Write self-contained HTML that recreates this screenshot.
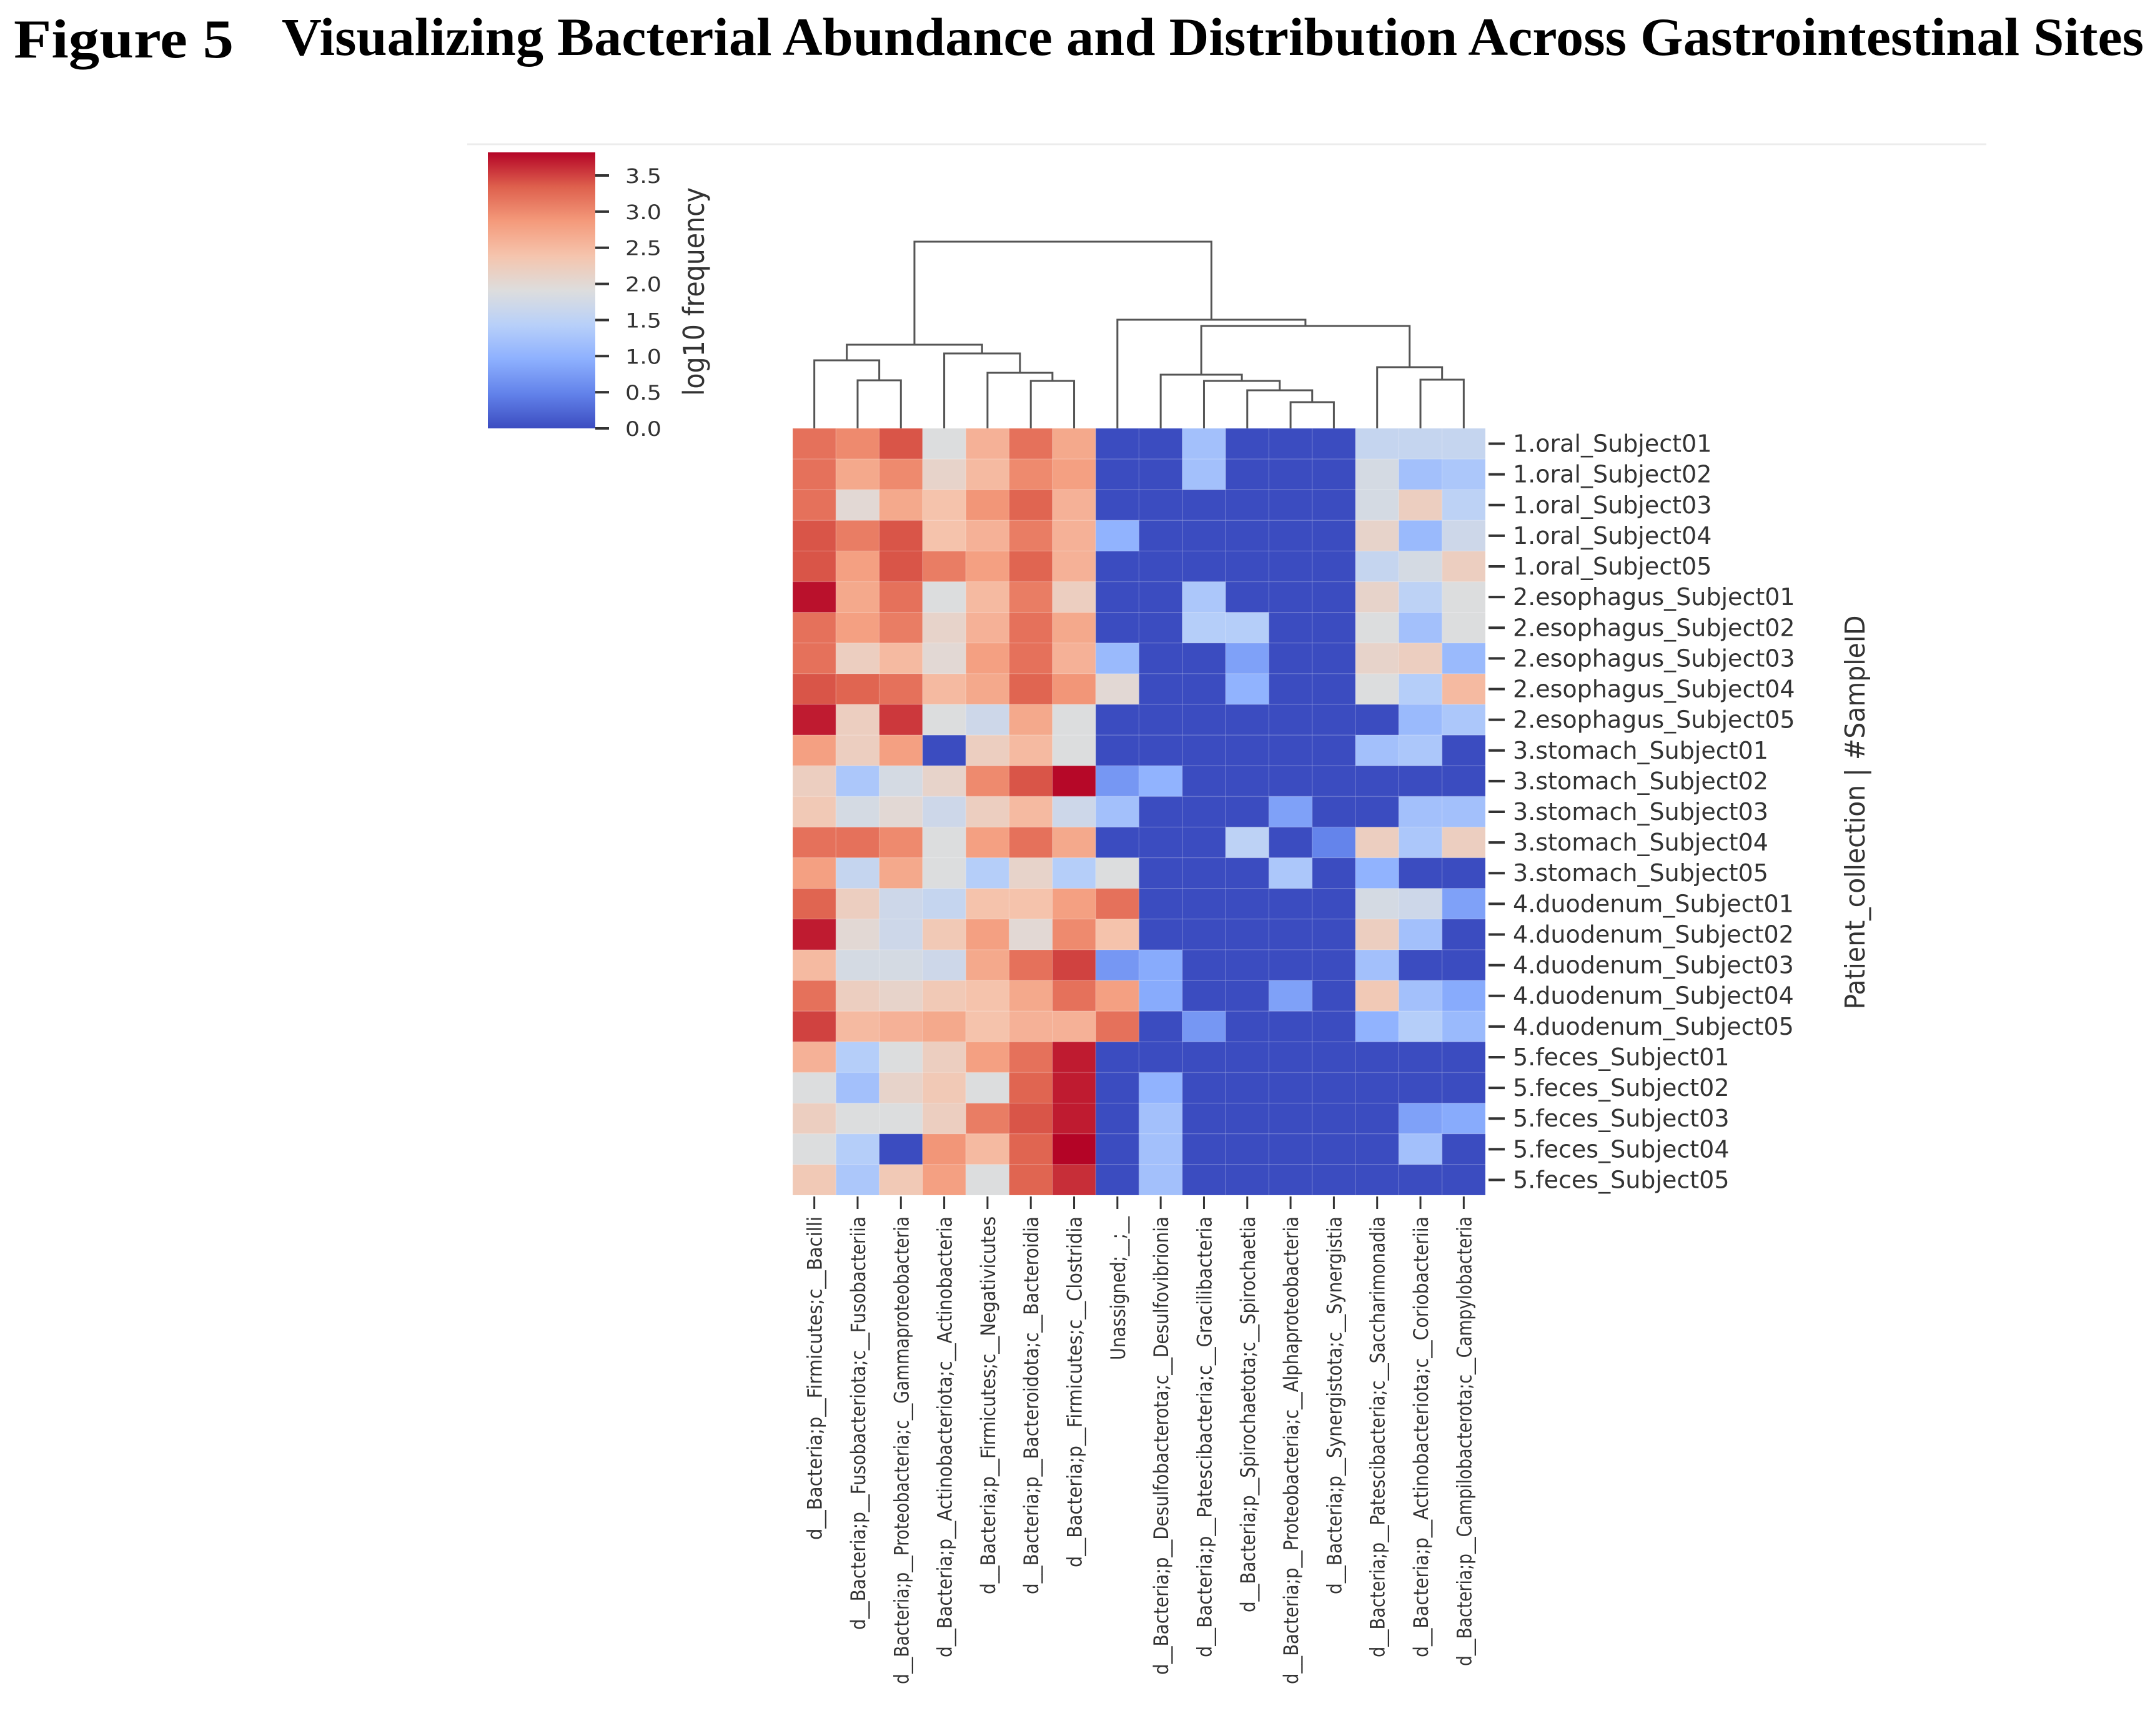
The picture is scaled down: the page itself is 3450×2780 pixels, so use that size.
<!DOCTYPE html>
<html><head><meta charset="utf-8"><style>
html,body{margin:0;padding:0;background:#fff;}
svg{display:block;}
</style></head><body>
<svg id="fig" xmlns="http://www.w3.org/2000/svg" width="3450" height="2780" viewBox="0 0 3450 2780">
<rect x="0" y="0" width="3450" height="2780" fill="#fff"/>
<text x="22" y="92" font-family="Liberation Serif, serif" font-weight="bold" font-size="88" textLength="352" lengthAdjust="spacingAndGlyphs" fill="#000">Figure 5</text>
<text x="451" y="88" font-family="Liberation Serif, serif" font-weight="bold" font-size="86" textLength="2981" lengthAdjust="spacingAndGlyphs" fill="#000">Visualizing Bacterial Abundance and Distribution Across Gastrointestinal Sites</text>
<line x1="748" y1="231" x2="3180" y2="231" stroke="#ececec" stroke-width="3"/>
<defs><linearGradient id="cw" x1="0" y1="1" x2="0" y2="0"></linearGradient></defs>
<g id="cbar"></g>
<g id="dendro"></g>
<g id="heat"></g>
<g id="rowlabels"></g>
<g id="collabels"></g>
<text transform="translate(2985,1301) rotate(-90)" text-anchor="middle" font-family="DejaVu Sans, sans-serif" font-size="44" textLength="631" lengthAdjust="spacingAndGlyphs" fill="#333">Patient_collection | #SampleID</text>
<text transform="translate(1127,467) rotate(-90)" text-anchor="middle" font-family="DejaVu Sans, sans-serif" font-size="46" textLength="334" lengthAdjust="spacingAndGlyphs" fill="#333">log10 frequency</text>
</svg>
<script>
const categories = ["d__Bacteria;p__Firmicutes;c__Bacilli","d__Bacteria;p__Fusobacteriota;c__Fusobacteriia","d__Bacteria;p__Proteobacteria;c__Gammaproteobacteria","d__Bacteria;p__Actinobacteriota;c__Actinobacteria","d__Bacteria;p__Firmicutes;c__Negativicutes","d__Bacteria;p__Bacteroidota;c__Bacteroidia","d__Bacteria;p__Firmicutes;c__Clostridia","Unassigned;__;__","d__Bacteria;p__Desulfobacterota;c__Desulfovibrionia","d__Bacteria;p__Patescibacteria;c__Gracilibacteria","d__Bacteria;p__Spirochaetota;c__Spirochaetia","d__Bacteria;p__Proteobacteria;c__Alphaproteobacteria","d__Bacteria;p__Synergistota;c__Synergistia","d__Bacteria;p__Patescibacteria;c__Saccharimonadia","d__Bacteria;p__Actinobacteriota;c__Coriobacteriia","d__Bacteria;p__Campilobacterota;c__Campylobacteria"];
const samples = ["1.oral_Subject01","1.oral_Subject02","1.oral_Subject03","1.oral_Subject04","1.oral_Subject05","2.esophagus_Subject01","2.esophagus_Subject02","2.esophagus_Subject03","2.esophagus_Subject04","2.esophagus_Subject05","3.stomach_Subject01","3.stomach_Subject02","3.stomach_Subject03","3.stomach_Subject04","3.stomach_Subject05","4.duodenum_Subject01","4.duodenum_Subject02","4.duodenum_Subject03","4.duodenum_Subject04","4.duodenum_Subject05","5.feces_Subject01","5.feces_Subject02","5.feces_Subject03","5.feces_Subject04","5.feces_Subject05"];
const values = [
[3.2,3.0,3.4,1.9,2.6,3.2,2.7,0,0,1.2,0,0,0,1.6,1.6,1.6],
[3.2,2.7,3.0,2.1,2.5,3.0,2.8,0,0,1.2,0,0,0,1.8,1.2,1.3],
[3.2,2.0,2.7,2.4,2.9,3.3,2.6,0,0,0,0,0,0,1.8,2.2,1.5],
[3.4,3.1,3.4,2.4,2.6,3.1,2.6,1.0,0,0,0,0,0,2.1,1.1,1.7],
[3.4,2.8,3.4,3.1,2.8,3.3,2.6,0,0,0,0,0,0,1.6,1.8,2.2],
[3.75,2.7,3.2,1.9,2.5,3.1,2.2,0,0,1.3,0,0,0,2.1,1.5,1.9],
[3.2,2.8,3.1,2.1,2.6,3.2,2.7,0,0,1.4,1.4,0,0,1.9,1.2,1.9],
[3.2,2.2,2.5,2.0,2.8,3.2,2.6,1.1,0,0,0.8,0,0,2.1,2.2,1.1],
[3.4,3.3,3.2,2.5,2.7,3.3,2.9,2.0,0,0,1.0,0,0,1.9,1.4,2.5],
[3.7,2.2,3.55,1.9,1.7,2.7,1.9,0,0,0,0,0,0,0,1.1,1.3],
[2.8,2.2,2.8,0,2.2,2.5,1.9,0,0,0,0,0,0,1.2,1.3,0],
[2.2,1.3,1.8,2.1,3.0,3.4,3.8,0.7,1.0,0,0,0,0,0,0,0],
[2.3,1.8,2.0,1.7,2.2,2.5,1.7,1.2,0,0,0,0.8,0,0,1.2,1.2],
[3.2,3.2,3.0,1.9,2.8,3.2,2.7,0,0,0,1.5,0,0.5,2.2,1.3,2.2],
[2.8,1.6,2.7,1.9,1.4,2.1,1.4,1.9,0,0,0,1.3,0,1.0,0,0],
[3.3,2.2,1.7,1.6,2.4,2.4,2.8,3.2,0,0,0,0,0,1.8,1.7,0.8],
[3.7,2.0,1.7,2.3,2.8,2.0,3.0,2.4,0,0,0,0,0,2.2,1.2,0],
[2.5,1.8,1.8,1.7,2.7,3.2,3.5,0.7,0.9,0,0,0,0,1.2,0,0],
[3.2,2.2,2.1,2.3,2.4,2.7,3.2,2.8,0.9,0,0,0.8,0,2.3,1.2,0.9],
[3.5,2.5,2.6,2.7,2.4,2.6,2.6,3.2,0,0.7,0,0,0,1.0,1.4,1.1],
[2.6,1.4,1.9,2.2,2.8,3.2,3.7,0,0,0,0,0,0,0,0,0],
[1.9,1.2,2.1,2.3,1.9,3.3,3.7,0,1.0,0,0,0,0,0,0,0],
[2.2,1.9,1.9,2.2,3.1,3.4,3.7,0,1.2,0,0,0,0,0,0.8,0.9],
[1.9,1.4,0,2.9,2.5,3.3,3.85,0,1.2,0,0,0,0,0,1.2,0],
[2.3,1.3,2.3,2.8,1.9,3.3,3.6,0,1.2,0,0,0,0,0,0,0]
];
const cbarTicks = [0.0,0.5,1.0,1.5,2.0,2.5,3.0,3.5];
const cbarTickLabels = ["0.0","0.5","1.0","1.5","2.0","2.5","3.0","3.5"];
// linkage: [childA, childB, distance]; leaves 0..15, new nodes 16+
const linkage = [[1,2,77],[5,6,76],[4,17,89],[0,16,109],[3,18,120],[19,20,134],[11,12,42],[10,22,61],[9,23,76],[8,24,86],[14,15,78],[13,26,98],[25,27,164],[7,28,174],[21,29,299]];

const NS="http://www.w3.org/2000/svg";
const VMIN=0, VMAX=3.82;
const HX0=1269, HX1=2378, HY0=686, HY1=1914;
const cw=(HX1-HX0)/categories.length, rh=(HY1-HY0)/samples.length;
const xScale=i=>HX0+i*cw;
const yScale=j=>HY0+j*rh;
const dScale=d=>HY0-d;
const CB={x0:781,x1:953,y0:244,y1:686};
const cbY=v=>CB.y1-(v-VMIN)/(VMAX-VMIN)*(CB.y1-CB.y0);
const anchors=[[59,76,192],[98,130,234],[141,176,254],[184,208,249],[221,221,221],[245,196,173],[244,154,123],[222,96,77],[180,4,38]];
function cmap(v){let t=Math.max(0,Math.min(1,(v-VMIN)/(VMAX-VMIN)))*(anchors.length-1);let i=Math.min(anchors.length-2,Math.floor(t)),f=t-i;const c=anchors[i].map((a,k)=>Math.round(a+(anchors[i+1][k]-a)*f));return `rgb(${c[0]},${c[1]},${c[2]})`;}
function mk(tag,attrs,parent){const e=document.createElementNS(NS,tag);for(const k in attrs)e.setAttribute(k,attrs[k]);parent.appendChild(e);return e;}

const grad=document.getElementById('cw');
for(let i=0;i<=16;i++){const s=document.createElementNS(NS,'stop');s.setAttribute('offset',i/16);s.setAttribute('stop-color',cmap(VMIN+(VMAX-VMIN)*i/16));grad.appendChild(s);}
const cb=document.getElementById('cbar');
const cbr=mk('rect',{x:CB.x0,y:CB.y0,width:CB.x1-CB.x0,height:CB.y1-CB.y0,fill:'url(#cw)'},cb);


cbarTicks.forEach((v,i)=>{
  const y=cbY(v);
  const t=mk('line',{x1:CB.x1,y1:y,x2:CB.x1+22,y2:y,stroke:'#333','stroke-width':4},cb);
  
  
  const l=mk('text',{x:CB.x1+48,y:y+12,'font-family':'DejaVu Sans, sans-serif','font-size':32,fill:'#333',textLength:58,lengthAdjust:'spacingAndGlyphs'},cb);
  l.textContent=cbarTickLabels[i];
  
  
});

const hg=document.getElementById('heat');
values.forEach((row,j)=>row.forEach((v,i)=>{
  const r=mk('rect',{x:xScale(i),y:yScale(j),width:cw,height:rh,fill:cmap(v),stroke:'rgba(255,255,255,0.12)','stroke-width':1.5},hg);
  
  
}));

const rl=document.getElementById('rowlabels');
samples.forEach((s,j)=>{
  const y=yScale(j)+rh/2;
  const t=mk('line',{x1:HX1+5,y1:y,x2:HX1+31,y2:y,stroke:'#333','stroke-width':4},rl);
  
  
  const l=mk('text',{x:2422,y:y+13,'font-family':'DejaVu Sans, sans-serif','font-size':38,fill:'#333'},rl);
  l.textContent=s;
  
  
});

const clg=document.getElementById('collabels');
categories.forEach((c,i)=>{
  const x=xScale(i)+cw/2;
  const t=mk('line',{x1:x,y1:HY1+2,x2:x,y2:HY1+22,stroke:'#333','stroke-width':3},clg);
  
  
  const l=mk('text',{transform:`translate(${x+12},1948) rotate(-90)`,'text-anchor':'end','font-family':'DejaVu Sans, sans-serif','font-size':32,fill:'#333',textLength:Math.round(c.length*14.4),lengthAdjust:'spacingAndGlyphs'},clg);
  l.textContent=c;
  
  
});

const dg=document.getElementById('dendro');
const nodeX={},nodeH={};
for(let i=0;i<categories.length;i++){nodeX[i]=xScale(i)+cw/2;nodeH[i]=0;}
linkage.forEach((m,k)=>{
  const [a,b,d]=m,id=categories.length+k;
  const xa=nodeX[a],xb=nodeX[b];
  const p=mk('path',{d:`M${xa},${dScale(nodeH[a])} V${dScale(d)} H${xb} V${dScale(nodeH[b])}`,fill:'none',stroke:'#555','stroke-width':3},dg);
  
  
  nodeX[id]=(xa+xb)/2;nodeH[id]=d;
});
</script>
</body></html>
